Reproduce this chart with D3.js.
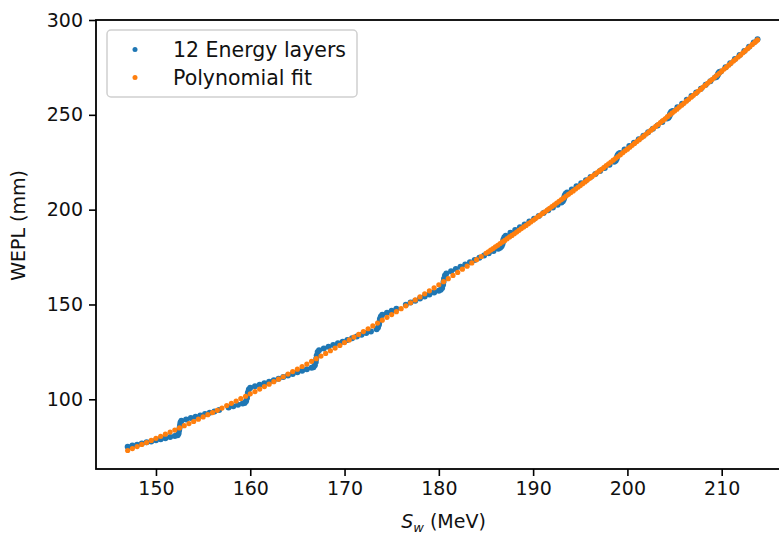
<!DOCTYPE html>
<html>
<head>
<meta charset="utf-8">
<script src="https://cdn.jsdelivr.net/npm/d3@7"></script>
<style>
    body { margin: 0; background: #fff; }
    #chart { width: 779px; height: 534px; }
    text { font-family: "DejaVu Sans", sans-serif; fill: #111; }
</style>
</head>
<body>
<div id="chart"></div>
<script>
// x ticks / y ticks
const xTicks = [150, 160, 170, 180, 190, 200, 210];
const yTicks = [100, 150, 200, 250, 300];

// measured points, 12 energy layers
const layerX = [147, 147.5, 148, 148.5, 149, 149.5, 150, 150.5, 151, 151.5, 152, 152.3,
    152.4, 152.45, 152.5, 152.55, 152.6,
    152.7, 153.2, 153.7, 154.2, 154.7, 155.2, 155.7, 156.2, 156.7, 157.7, 158.2, 158.7, 159.2, 159.4,
    159.55, 159.65, 159.7, 159.75, 159.85,
    160.0, 160.5, 161.0, 161.5, 162.0, 162.5, 163.0, 163.5, 164.0, 164.5, 165.0, 165.5, 166.0, 166.5, 166.7,
    166.85, 166.95, 167.0, 167.05, 167.15,
    167.3, 167.8, 168.3, 168.8, 169.3, 169.8, 170.3, 170.8, 171.3, 171.8, 172.3, 172.8, 173.4,
    173.55, 173.65, 173.7, 173.75, 173.85,
    174.0, 174.5, 175.0, 175.5, 176.5, 177.0, 177.5, 178.0, 178.5, 179.0, 179.5, 180.0, 180.2,
    180.35, 180.45, 180.5, 180.55, 180.65,
    180.8, 181.3, 181.8, 182.3, 182.8, 183.3, 183.8, 184.3, 184.8, 185.3, 185.8, 186.3, 186.5,
    186.65, 186.75, 186.8, 186.85, 186.95,
    187.1, 187.6, 188.1, 188.6, 189.1, 189.6, 190.1, 190.6, 191.1, 191.6, 192.1, 192.6, 193.0,
    193.15, 193.25, 193.3, 193.35, 193.45,
    193.6, 194.1, 194.6, 195.1, 195.6, 196.1, 196.6, 197.1, 197.6, 198.1, 198.6,
    198.75, 198.85, 198.9, 198.95, 199.05,
    199.2, 199.7, 200.2, 200.7, 201.2, 201.7, 202.2, 202.7, 203.2, 203.7, 204.2,
    204.35, 204.45, 204.5, 204.55, 204.65,
    204.8, 205.3, 205.8, 206.3, 206.8, 207.3, 207.8, 208.3, 208.8, 209.3,
    209.45, 209.55, 209.6, 209.65, 209.75,
    209.9, 210.4, 210.9, 211.4, 211.9, 212.4, 212.9, 213.4, 213.8];
const layerY = [75.0, 75.6, 76.1, 76.7, 77.3, 77.8, 78.4, 79.0, 79.5, 80.1, 80.7, 81.0,
    82.0, 83.5, 84.9, 86.3, 87.8,
    88.7, 89.4, 90.1, 90.8, 91.5, 92.2, 92.9, 93.6, 94.3, 95.7, 96.4, 97.1, 97.8, 98.1,
    99.0, 100.6, 102.1, 103.6, 105.2,
    106.1, 106.9, 107.7, 108.5, 109.3, 110.1, 110.9, 111.7, 112.5, 113.3, 114.2, 115.0, 115.8, 116.6, 116.9,
    117.9, 119.7, 121.4, 123.1, 124.9,
    125.9, 126.8, 127.7, 128.6, 129.5, 130.4, 131.3, 132.2, 133.1, 134.0, 134.9, 135.8, 136.9,
    137.8, 139.3, 140.8, 142.3, 143.7,
    144.6, 145.7, 146.7, 147.8, 149.9, 151.0, 152.0, 153.1, 154.2, 155.2, 156.3, 157.3, 157.7,
    158.7, 160.4, 162.0, 163.6, 165.3,
    166.3, 167.5, 168.7, 169.9, 171.1, 172.3, 173.4, 174.6, 175.8, 177.0, 178.2, 179.4, 179.9,
    180.7, 181.9, 183.1, 184.3, 185.5,
    186.3, 187.8, 189.3, 190.7, 192.2, 193.7, 195.2, 196.7, 198.2, 199.7, 201.1, 202.6, 203.8,
    204.4, 205.4, 206.4, 207.4, 208.4,
    209.0, 210.6, 212.3, 213.9, 215.5, 217.2, 218.8, 220.4, 222.0, 223.7, 225.3,
    225.8, 226.7, 227.6, 228.5, 229.4,
    229.9, 231.7, 233.5, 235.3, 237.1, 239.0, 240.8, 242.6, 244.4, 246.2, 248.0,
    248.4, 249.2, 250.0, 250.8, 251.6,
    252.0, 254.0, 255.9, 257.9, 259.9, 261.8, 263.8, 265.8, 267.7, 269.7,
    270.0, 270.7, 271.3, 271.9, 272.6,
    272.9, 275.1, 277.2, 279.4, 281.6, 283.7, 285.9, 288.1, 289.8];

// polynomial fit
const fitX = [147, 147.5, 148, 148.5, 149, 149.5, 150, 150.5, 151, 151.5, 152, 152.5, 153, 153.5,
    154, 154.5, 155, 155.5, 156, 156.5, 157, 157.5, 158, 158.5, 159, 159.5, 160, 160.5, 161, 161.5,
    162, 162.5, 163, 163.5, 164, 164.5, 165, 165.5, 166, 166.5, 167, 167.5, 168, 168.5, 169, 169.5,
    170, 170.5, 171, 171.5, 172, 172.5, 173, 173.5, 174, 174.5, 175, 175.5, 176, 176.5, 177, 177.5,
    178, 178.5, 179, 179.5, 180, 180.5, 181, 181.5, 182, 182.5, 183, 183.5, 184, 184.5,
    185, 185.25, 185.5, 185.75, 186, 186.25, 186.5, 186.75, 187, 187.25, 187.5, 187.75,
    188, 188.25, 188.5, 188.75, 189, 189.25, 189.5, 189.75, 190, 190.25, 190.5, 190.75,
    191, 191.25, 191.5, 191.75, 192, 192.25, 192.5, 192.75, 193, 193.25, 193.5, 193.75,
    194, 194.25, 194.5, 194.75, 195, 195.25, 195.5, 195.75, 196, 196.25, 196.5, 196.75,
    197, 197.25, 197.5, 197.75, 198, 198.25, 198.5, 198.75, 199, 199.25, 199.5, 199.75,
    200, 200.25, 200.5, 200.75, 201, 201.25, 201.5, 201.75, 202, 202.25, 202.5, 202.75,
    203, 203.25, 203.5, 203.75, 204, 204.25, 204.5, 204.75, 205, 205.25, 205.5, 205.75,
    206, 206.25, 206.5, 206.75, 207, 207.25, 207.5, 207.75, 208, 208.25, 208.5, 208.75,
    209, 209.25, 209.5, 209.75, 210, 210.25, 210.5, 210.75, 211, 211.25, 211.5, 211.75,
    212, 212.25, 212.5, 212.75, 213, 213.25, 213.5, 213.65, 213.8];
const fitY = [73.0, 74.0, 75.1, 76.2, 77.2, 78.3, 79.4, 80.5, 81.6, 82.7, 83.8, 84.9, 86.1, 87.2,
    88.3, 89.5, 90.7, 91.9, 93.0, 94.2, 95.4, 96.7, 97.9, 99.1, 100.4, 101.6, 102.9, 104.1, 105.4, 106.7,
    108.0, 109.3, 110.6, 111.9, 113.3, 114.6, 115.9, 117.3, 118.6, 120.0, 121.4, 122.8, 124.2, 125.6, 127.0, 128.4,
    129.9, 131.3, 132.8, 134.2, 135.7, 137.2, 138.7, 140.2, 141.7, 143.2, 144.7, 146.2, 147.8, 149.3, 150.9, 152.4,
    154.0, 155.6, 157.2, 158.8, 160.4, 162.0, 163.6, 165.3, 166.9, 168.6, 170.2, 171.9, 173.6, 175.3,
    177.0, 177.8, 178.7, 179.5, 180.4, 181.2, 182.1, 183.0, 183.8, 184.7, 185.6, 186.4,
    187.3, 188.2, 189.1, 190.0, 190.9, 191.7, 192.6, 193.5, 194.4, 195.3, 196.2, 197.1,
    198.0, 198.9, 199.8, 200.7, 201.6, 202.5, 203.5, 204.4, 205.3, 206.2, 207.2, 208.1,
    209.0, 209.9, 210.9, 211.8, 212.7, 213.7, 214.6, 215.6, 216.5, 217.5, 218.4, 219.4,
    220.3, 221.3, 222.2, 223.2, 224.2, 225.1, 226.1, 227.1, 228.0, 229.0, 230.0, 231.0,
    231.9, 232.9, 233.9, 234.9, 235.9, 236.9, 237.9, 238.9, 239.9, 240.9, 241.9, 242.9,
    243.9, 244.9, 245.9, 246.9, 247.9, 249.0, 250.0, 251.0, 252.0, 253.0, 254.1, 255.1,
    256.1, 257.2, 258.2, 259.3, 260.3, 261.3, 262.4, 263.4, 264.5, 265.5, 266.6, 267.7,
    268.7, 269.8, 270.9, 271.9, 273.0, 274.1, 275.1, 276.2, 277.3, 278.4, 279.4, 280.5,
    281.6, 282.7, 283.8, 284.9, 286.0, 287.1, 288.2, 288.8, 289.5];

const legendLabels = ["12 Energy layers", "Polynomial fit"];
const colors = ["#1f77b4", "#ff7f0e"];

class WeplVis {
    constructor(parentElement) {
        this.parentElement = parentElement;
        this.initVis();
    }

    initVis() {
        let vis = this;

        vis.margin = { top: 20, right: -12, bottom: 65, left: 96 };
        vis.width = 779 - vis.margin.left - vis.margin.right;
        vis.height = 534 - vis.margin.top - vis.margin.bottom;

        vis.svg = d3.select("#" + vis.parentElement).append("svg")
            .attr("width", 779)
            .attr("height", 534)
            .append("g")
            .attr("transform", "translate(" + vis.margin.left + "," + vis.margin.top + ")");

        vis.x = d3.scaleLinear()
            .domain([143.64, 217.35])
            .range([0, vis.width]);

        vis.y = d3.scaleLinear()
            .domain([63.25, 300])
            .range([vis.height, 0]);

        vis.xAxis = d3.axisBottom(vis.x)
            .tickValues(xTicks)
            .tickFormat(d3.format("d"))
            .tickSize(7)
            .tickPadding(6);

        vis.yAxis = d3.axisLeft(vis.y)
            .tickValues(yTicks)
            .tickFormat(d3.format("d"))
            .tickSize(7)
            .tickPadding(6);

        vis.updateVis();
    }

    updateVis() {
        let vis = this;

        let layers = layerX.map((d, i) => ({ x: d, y: layerY[i] }));
        let fit = fitX.map((d, i) => ({ x: d, y: fitY[i] }));

        vis.svg.append("g").selectAll(".dot-layer")
            .data(layers)
            .enter().append("circle")
            .attr("class", "dot-layer")
            .attr("cx", d => vis.x(d.x))
            .attr("cy", d => vis.y(d.y))
            .attr("r", 3)
            .attr("fill", colors[0]);

        vis.svg.append("g").selectAll(".dot-fit")
            .data(fit)
            .enter().append("circle")
            .attr("class", "dot-fit")
            .attr("cx", d => vis.x(d.x))
            .attr("cy", d => vis.y(d.y))
            .attr("r", 2.6)
            .attr("fill", colors[1]);

        // axes
        let gx = vis.svg.append("g")
            .attr("transform", "translate(0," + vis.height + ")")
            .call(vis.xAxis);
        let gy = vis.svg.append("g")
            .call(vis.yAxis);

        [gx, gy].forEach(g => {
            g.select(".domain").remove();
            g.selectAll(".tick line").attr("stroke", "#000").attr("stroke-width", 1.6);
            g.selectAll(".tick text")
                .attr("font-size", 19)
                .attr("font-family", "DejaVu Sans")
                .attr("fill", "#111");
        });

        // spines
        vis.svg.append("rect")
            .attr("x", 0)
            .attr("y", 0)
            .attr("width", vis.width)
            .attr("height", vis.height)
            .attr("fill", "none")
            .attr("stroke", "#000")
            .attr("stroke-width", 1.8);

        // axis titles
        let xt = vis.svg.append("text")
            .attr("x", vis.width / 2)
            .attr("y", vis.height + 59)
            .attr("text-anchor", "middle")
            .attr("font-size", 19);
        xt.append("tspan").attr("font-style", "italic").text("S");
        xt.append("tspan").attr("font-style", "italic").attr("font-size", 13).attr("dy", 4).text("w");
        xt.append("tspan").attr("dy", -4).text(" (MeV)");

        vis.svg.append("text")
            .attr("transform", "translate(-71," + (vis.height / 2 - 19) + ") rotate(-90)")
            .attr("text-anchor", "middle")
            .attr("font-size", 19)
            .text("WEPL (mm)");

        // legend
        let legend = vis.svg.append("g")
            .attr("transform", "translate(11,10)");

        legend.append("rect")
            .attr("width", 250)
            .attr("height", 67)
            .attr("rx", 4)
            .attr("fill", "#fff")
            .attr("fill-opacity", 0.8)
            .attr("stroke", "#d0d0d0")
            .attr("stroke-width", 1.5);

        legendLabels.forEach((label, i) => {
            legend.append("circle")
                .attr("cx", 28)
                .attr("cy", 19.5 + i * 28)
                .attr("r", 2.5)
                .attr("fill", colors[i]);
            legend.append("text")
                .attr("x", 66)
                .attr("y", 27 + i * 28)
                .attr("font-size", 20.5)
                .text(label);
        });
    }
}

new WeplVis("chart");
</script>
</body>
</html>
